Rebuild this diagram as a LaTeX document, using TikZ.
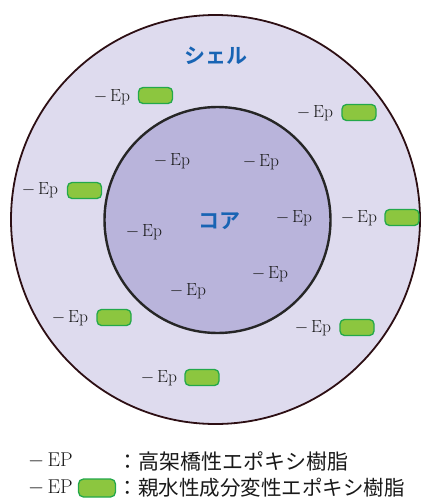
\documentclass[tikz,border=0pt]{standalone}
\usepackage{fontspec}
\newfontfamily\jpfont{Noto Sans CJK JP}
\newfontfamily\jpbold{Noto Sans CJK JP}[BoldFont={* Bold}]
\definecolor{shellfill}{RGB}{222,219,238}
\definecolor{corefill}{RGB}{185,180,219}
\definecolor{shelledge}{RGB}{45,15,20}
\definecolor{pillfill}{RGB}{140,198,63}
\definecolor{pilledge}{RGB}{35,168,74}
\definecolor{titleblue}{RGB}{24,100,180}
\begin{document}
\begin{tikzpicture}[x=1pt,y=-1pt,
  eplabel/.style={inner sep=0pt,font=\fontsize{17.5}{17.5}\selectfont,text=black!90},
  pill/.style={draw=pilledge,fill=pillfill,line width=1.3pt,rounded corners=4.5pt,minimum width=34pt,minimum height=16pt,inner sep=0pt},
  title/.style={inner sep=0pt,text=titleblue,font=\jpbold\bfseries\fontsize{21}{21}\selectfont},
  legend/.style={inner sep=0pt,anchor=west,text=black!90}]
\useasboundingbox (0,0) rectangle (422,499);
\node[circle,draw=shelledge,fill=shellfill,line width=1.8pt,minimum size=409pt,inner sep=0pt] (shell) at (215.5,219.5) {};
\node[circle,draw=black!85,fill=corefill,line width=2.4pt,minimum size=226pt,inner sep=0pt] (core) at (217.5,220) {};
\node[title] (tshell) at (216,56) {シェル};
\node[title] (tcore) at (219,221) {コア};
% shell labels with pills
\node[eplabel] (s1) at (112,97) {$-$\,Ep};
\node[pill] (p1) at (155.5,95.5) {};
\node[eplabel] (s2) at (315,113) {$-$\,Ep};
\node[pill] (p2) at (359,112.5) {};
\node[eplabel] (s3) at (40,190) {$-$\,Ep};
\node[pill] (p3) at (84.5,190.5) {};
\node[eplabel] (s4) at (359,218) {$-$\,Ep};
\node[pill] (p4) at (402,217.5) {};
\node[eplabel] (s5) at (70,318) {$-$\,Ep};
\node[pill] (p5) at (114,317.5) {};
\node[eplabel] (s6) at (313,328) {$-$\,Ep};
\node[pill] (p6) at (357,327.5) {};
\node[eplabel] (s7) at (159,378) {$-$\,Ep};
\node[pill] (p7) at (202,377.5) {};
% core labels
\node[eplabel] (c1) at (172,161) {$-$\,Ep};
\node[eplabel] (c2) at (261,162) {$-$\,Ep};
\node[eplabel] (c3) at (294,218) {$-$\,Ep};
\node[eplabel] (c4) at (144,232) {$-$\,Ep};
\node[eplabel] (c5) at (270,274) {$-$\,Ep};
\node[eplabel] (c6) at (188,291) {$-$\,Ep};
% legend
\node[legend,font=\fontsize{20}{20}\selectfont] (l1) at (28,461) {$-$\,EP};
\node[legend,font=\jpfont\fontsize{21}{21}\selectfont] (l1t) at (117.5,461) {：高架橋性エポキシ樹脂};
\node[legend,font=\fontsize{20}{20}\selectfont] (l2) at (28,488) {$-$\,EP};
\node[pill,minimum width=37pt,minimum height=18pt,rounded corners=5pt] (lp) at (97,488) {};
\node[legend,font=\jpfont\fontsize{20.5}{20.5}\selectfont] (l2t) at (117.5,488) {：親水性成分変性エポキシ樹脂};
\end{tikzpicture}
\end{document}
